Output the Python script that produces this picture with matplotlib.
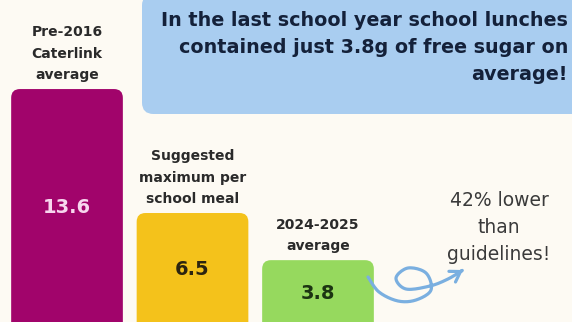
import matplotlib
matplotlib.use("Agg")
import numpy as np
import matplotlib.pyplot as plt
from matplotlib.patches import FancyBboxPatch, FancyArrowPatch
from matplotlib.path import Path

categories = ["Pre-2016\nCaterlink\naverage", "Suggested\nmaximum per\nschool meal", "2024-2025\naverage"]
values = [13.6, 6.5, 3.8]
value_labels = ["13.6", "6.5", "3.8"]
bar_colors = ["#a1046b", "#f4c21b", "#96d95e"]
value_colors = ["#f7d6ee", "#2b2410", "#1c3412"]
headline = "In the last school year school lunches\ncontained just 3.8g of free sugar on\naverage!"
callout = "42% lower\nthan\nguidelines!"

BG = "#fdfaf3"
W, H = 572, 322
fig = plt.figure(figsize=(W / 100, H / 100), dpi=100, facecolor=BG)
ax = fig.add_axes([0, 0, 1, 1])
ax.set_facecolor(BG)
ax.set_xlim(-0.534, 4.024)
ax.set_ylim(0.258, 18.70)
ax.axis("off")

bars = ax.bar(range(len(values)), values, width=0.89, color=bar_colors, zorder=2)
xr = 4.024 + 0.534
yr = 18.70 - 0.258
aspect = (yr / H) / (xr / W)
for b, c in zip(bars, bar_colors):
    b.set_visible(False)
    x0, y0 = b.get_x(), b.get_y()
    w, h = b.get_width(), b.get_height()
    rp = FancyBboxPatch((x0, y0 - 2), w, h + 2,
                        boxstyle="round,pad=0,rounding_size=0.07",
                        mutation_aspect=aspect, facecolor=c, edgecolor="none", zorder=2)
    ax.add_patch(rp)

# value labels at mid-height of each bar
for i, (v, lab, col) in enumerate(zip(values, value_labels, value_colors)):
    ax.text(i, v * 0.5, lab, ha="center", va="center",
            fontsize=14, fontweight="bold", color=col, zorder=3)

# category labels above bars
for i, (v, cat) in enumerate(zip(values, categories)):
    ax.text(i, v + 0.4, cat, ha="center", va="bottom", fontsize=10,
            fontweight="bold", color="#2a2a2a", linespacing=1.68, zorder=3)

# headline box
box = FancyBboxPatch((142 / W, 1 - 114 / H), (W + 20 - 142) / W, 120 / H,
                     boxstyle="round,pad=0,rounding_size=0.02",
                     transform=fig.transFigure, facecolor="#a9cdf0",
                     edgecolor="none", zorder=1, mutation_aspect=W / H)
fig.patches.append(box)
fig.text(568 / W, 1 - 47.5 / H, headline, ha="right", va="center", fontsize=13.8,
         fontweight="bold", color="#14213a", linespacing=1.55)

# callout text
fig.text(499 / W, 1 - 227.5 / H, callout, ha="center", va="center", fontsize=13.5,
         color="#3a3a3a", linespacing=1.52)

# curly arrow (decoration, pixel coordinates), smoothed with Catmull-Rom
pts = np.array([(368, 277), (379, 292), (398, 301), (416, 300), (431, 290),
                (426, 273), (408, 268), (396, 278), (406, 289), (430, 286),
                (448, 279), (463, 270)], dtype=float)
def catmull(p, n=12):
    p = np.vstack([p[0], p, p[-1]])
    out = []
    for i in range(1, len(p) - 2):
        p0, p1, p2, p3 = p[i - 1], p[i], p[i + 1], p[i + 2]
        for t in np.linspace(0, 1, n, endpoint=False):
            t2, t3 = t * t, t * t * t
            out.append(0.5 * ((2 * p1) + (-p0 + p2) * t + (2 * p0 - 5 * p1 + 4 * p2 - p3) * t2
                              + (-p0 + 3 * p1 - 3 * p2 + p3) * t3))
    out.append(p[-2])
    return np.array(out)
curve = catmull(pts)
fv = np.column_stack([curve[:, 0] / W, 1 - curve[:, 1] / H])
path = Path(fv, [Path.MOVETO] + [Path.LINETO] * (len(fv) - 1))
arrow = FancyArrowPatch(path=path, arrowstyle="->,head_length=7,head_width=4.5",
                        transform=fig.transFigure, color="#7aafe0", lw=2.3,
                        zorder=4, joinstyle="round", capstyle="round")
fig.patches.append(arrow)

fig.savefig("out.png", dpi=100, facecolor=BG)
